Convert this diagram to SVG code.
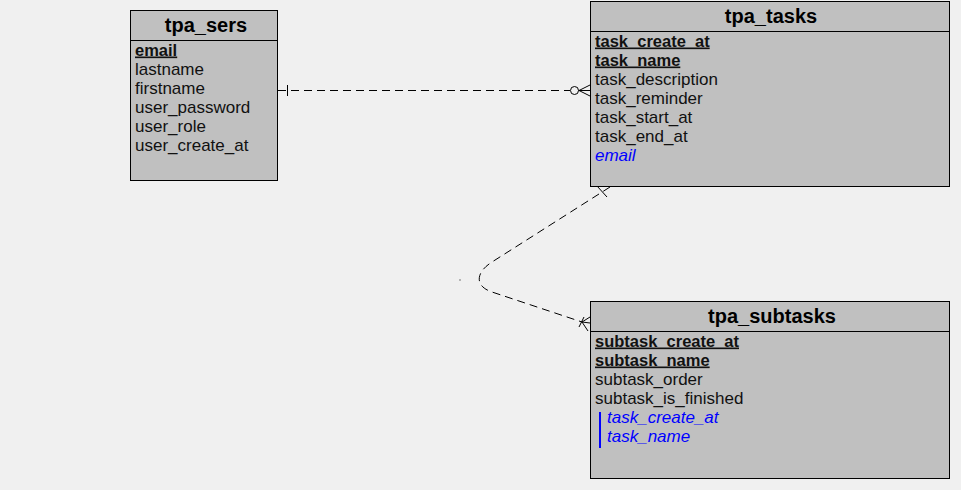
<svg xmlns="http://www.w3.org/2000/svg" width="961" height="490" viewBox="0 0 961 490">
  <style>
    .box { fill: #c0c0c0; stroke: #000; stroke-width: 1; }
    .sep { stroke: #000; stroke-width: 1; }
    .title { font-family: "Liberation Sans", Arial, sans-serif; font-size: 20px; font-weight: bold; fill: #000; text-anchor: middle; }
    .col { font-family: "Liberation Sans", Arial, sans-serif; font-size: 17px; fill: #111; }
    .pk { font-weight: bold; font-size: 16.5px; text-decoration: underline; }
    .fk { fill: #0000ff; font-style: italic; }
    .rel { fill: none; stroke: #000; stroke-width: 1; stroke-dasharray: 8 5; }
    .mark { fill: none; stroke: #000; stroke-width: 1; }
  </style>
  <rect width="961" height="490" fill="#f0f0f0"/>

  <g id="connectors">
    <!-- tpa_sers.email 1 : 0..n tpa_tasks.email -->
    <g id="rel-sers-tasks">
      <line class="rel" x1="278" y1="90.5" x2="570" y2="90.5"/>
      <line class="mark" x1="287.5" y1="85" x2="287.5" y2="96"/>
      <circle class="mark" cx="574.5" cy="90.5" r="4"/>
      <line class="mark" x1="578.5" y1="90.5" x2="590" y2="90.5"/>
      <line class="mark" x1="579" y1="90.5" x2="590" y2="85"/>
      <line class="mark" x1="579" y1="90.5" x2="590" y2="96"/>
    </g>
    <!-- tpa_tasks 1 : n tpa_subtasks -->
    <g id="rel-tasks-subtasks">
      <path class="rel" d="M 610,187 L 492,262 C 476,272 474,286 492,292 L 582,322"/>
      <line class="mark" x1="597" y1="186" x2="607" y2="197"/>
      <line class="mark" x1="582" y1="322" x2="590" y2="317"/>
      <line class="mark" x1="582" y1="322" x2="590" y2="323"/>
      <line class="mark" x1="582" y1="322" x2="588" y2="331"/>
      <line class="mark" x1="579" y1="327" x2="584" y2="317"/>
      <rect x="459.5" y="279.5" width="1" height="1" fill="#000"/>
    </g>
  </g>

  <g id="tpa_sers">
    <rect class="box" x="130.5" y="10.5" width="147" height="170"/>
    <line class="sep" x1="130.5" y1="40.5" x2="277.5" y2="40.5"/>
    <text class="title" x="206" y="32">tpa_sers</text>
    <text class="col pk" x="135" y="55.5">email</text>
    <text class="col" x="135" y="74.5">lastname</text>
    <text class="col" x="135" y="93.5">firstname</text>
    <text class="col" x="135" y="112.5">user_password</text>
    <text class="col" x="135" y="131.5">user_role</text>
    <text class="col" x="135" y="150.5">user_create_at</text>
  </g>

  <g id="tpa_tasks">
    <rect class="box" x="590.5" y="1.5" width="359" height="185"/>
    <line class="sep" x1="590.5" y1="31.5" x2="949.5" y2="31.5"/>
    <text class="title" x="771" y="23">tpa_tasks</text>
    <text class="col pk" x="595" y="46.5">task_create_at</text>
    <text class="col pk" x="595" y="65.5">task_name</text>
    <text class="col" x="595" y="84.5">task_description</text>
    <text class="col" x="595" y="103.5">task_reminder</text>
    <text class="col" x="595" y="122.5">task_start_at</text>
    <text class="col" x="595" y="141.5">task_end_at</text>
    <text class="col fk" x="595" y="160.5">email</text>
  </g>

  <g id="tpa_subtasks">
    <rect class="box" x="590.5" y="301.5" width="359" height="177"/>
    <line class="sep" x1="590.5" y1="331.5" x2="949.5" y2="331.5"/>
    <text class="title" x="772" y="323">tpa_subtasks</text>
    <text class="col pk" x="595" y="346.5">subtask_create_at</text>
    <text class="col pk" x="595" y="365.5">subtask_name</text>
    <text class="col" x="595" y="384.5">subtask_order</text>
    <text class="col" x="595" y="403.5">subtask_is_finished</text>
    <rect x="599" y="412" width="2" height="36" fill="#0000ff"/>
    <text class="col fk" x="607" y="422.5">task_create_at</text>
    <text class="col fk" x="607" y="441.5">task_name</text>
  </g>
</svg>
